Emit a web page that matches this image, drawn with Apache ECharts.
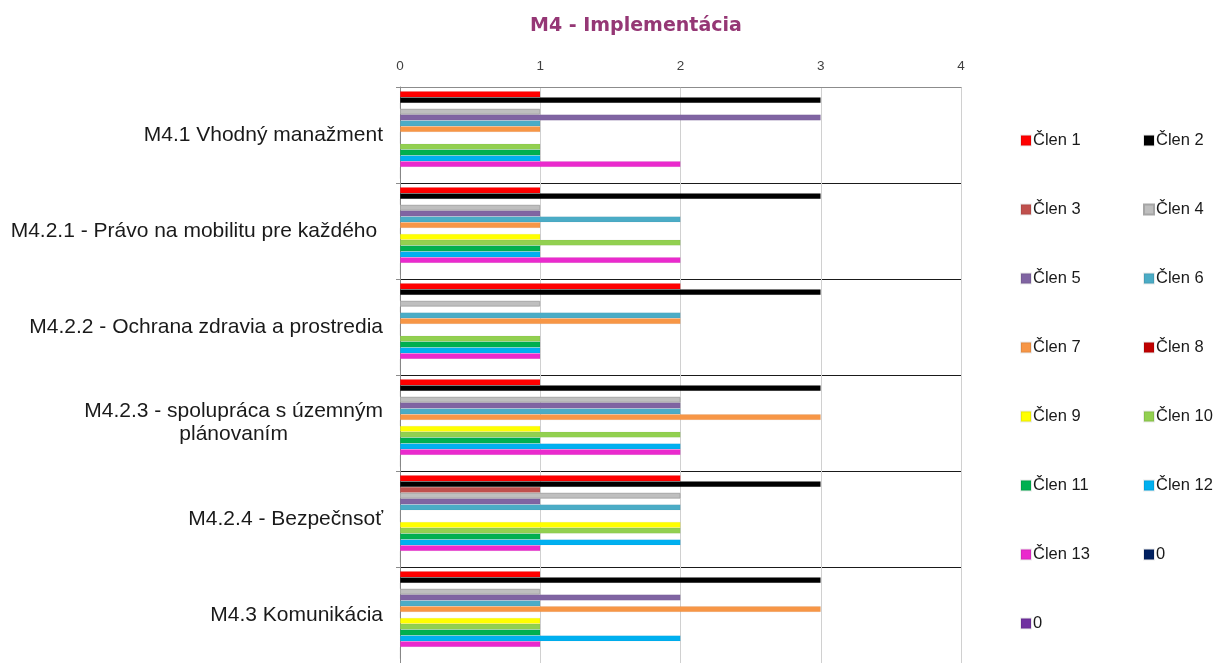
<!DOCTYPE html>
<html>
<head>
<meta charset="utf-8">
<script src="https://cdn.jsdelivr.net/npm/echarts@6/dist/echarts.min.js"></script>
<style>html,body{margin:0;padding:0;background:#fff}#c{width:1222px;height:663px}</style>
</head>
<body>
<div id="c"></div>
<script>
const categories = [
  "M4.1 Vhodný manažment",
  "M4.2.1 - Právo na mobilitu pre každého ",
  "M4.2.2 - Ochrana zdravia a prostredia",
  "M4.2.3 - spolupráca s územným\nplánovaním",
  "M4.2.4 - Bezpečnsoť",
  "M4.3 Komunikácia"
];
const seriesNames = ["Člen 1","Člen 2","Člen 3","Člen 4","Člen 5","Člen 6","Člen 7","Člen 8","Člen 9","Člen 10","Člen 11","Člen 12","Člen 13","0","0"];
const seriesColors = ["#FF0000","#000000","#C0504D","#BFBFBF","#8064A2","#4BACC6","#F79646","#C00000","#FFFF00","#92D050","#00B050","#00B0F0","#EA2ACD","#002060","#7030A0"];
// values per series, one per category (top to bottom)
const clen1  = [1,1,2,1,2,1];
const clen2  = [3,3,3,3,3,3];
const clen3  = [0,0,0,0,1,0];
const clen4  = [1,1,1,2,2,1];
const clen5  = [3,1,0,2,1,2];
const clen6  = [1,2,2,2,2,1];
const clen7  = [1,1,2,3,0,3];
const clen8  = [0,0,0,0,0,0];
const clen9  = [0,1,0,1,2,1];
const clen10 = [1,2,1,2,2,1];
const clen11 = [1,1,1,1,1,1];
const clen12 = [1,1,1,2,2,2];
const clen13 = [2,2,1,2,1,1];
const zeroA  = [0,0,0,0,0,0];
const zeroB  = [0,0,0,0,0,0];
const seriesValues = [clen1,clen2,clen3,clen4,clen5,clen6,clen7,clen8,clen9,clen10,clen11,clen12,clen13,zeroA,zeroB];
const xTicks = [0,1,2,3,4];

const FONT = 'Liberation Sans, Arial, sans-serif';
const chart = echarts.init(document.getElementById('c'), null, {renderer:'canvas'});
const series = seriesNames.map((n,i)=>({
  name: n,
  type: 'bar',
  data: seriesValues[i],
  barGap: '0%',
  barCategoryGap: '9%',
  itemStyle: {color: seriesColors[i], borderColor: i===3 ? '#A6A6A6' : 'rgba(0,0,0,0.08)', borderWidth: i===3 ? 1 : 0.5},
  emphasis: {disabled: true},
  animation: false
}));

const leftNames = [0,2,4,6,8,10,12,14];
const rightNames = [1,3,5,7,9,11,13];
function legendData(idx){
  return idx.map(i=>({name: seriesNames[i], itemStyle:{color: seriesColors[i]}}));
}
const legendCommon = {
  orient: 'vertical',
  icon: 'rect',
  itemWidth: 10,
  itemHeight: 10,
  itemGap: 52,
  padding: 0,
  selectedMode: false,
  textStyle: {fontFamily: FONT, fontSize: 16.5, color: '#1a1a1a', padding:[0,0,0,-3], lineHeight: 17}
};

chart.setOption({
  animation: false,
  backgroundColor: '#fff',
  title: {
    text: 'M4 - Implementácia',
    left: 525, top: 12,
    textStyle: {fontFamily: 'DejaVu Sans, Verdana, sans-serif', fontSize: 19, fontWeight: 'bold', color: '#953775'}
  },
  legend: [
    Object.assign({}, legendCommon, {left: 1020, top: 132, data: legendData(leftNames)}),
    Object.assign({}, legendCommon, {left: 1143, top: 132, data: legendData(rightNames)})
  ],
  grid: {left: 400, top: 87, width: 561, height: 580, containLabel: false},
  xAxis: {
    type: 'value', position: 'top', min: 0, max: 4, interval: 1,
    axisLine: {show: true, lineStyle: {color: '#8c8c8c'}},
    axisTick: {show: false},
    axisLabel: {color: '#404040', fontSize: 13.5, margin: 14, fontFamily: FONT,
      formatter: v => xTicks.includes(v) ? String(v) : ''},
    splitLine: {show: true, lineStyle: {color: '#d0d0d0', width: 1}}
  },
  yAxis: {
    type: 'category', inverse: true, data: categories,
    axisLine: {show: true, lineStyle: {color: '#8c8c8c'}},
    axisTick: {show: true, length: 4, lineStyle: {color: '#8c8c8c'}},
    splitLine: {show: true, lineStyle: {color: '#1a1a1a', width: 1}},
    axisLabel: {
      color: '#1a1a1a', fontSize: 21, margin: 17, fontFamily: FONT,
      formatter: function(v){
        if (v.indexOf('\n') >= 0) {
          return v.split('\n').map(s=>'{c|'+s+'}').join('\n');
        }
        return v;
      },
      rich: {c: {align: 'center', fontSize: 21, color: '#1a1a1a', fontFamily: FONT, lineHeight: 23}}
    }
  },
  series: series
});
</script>
</body>
</html>
